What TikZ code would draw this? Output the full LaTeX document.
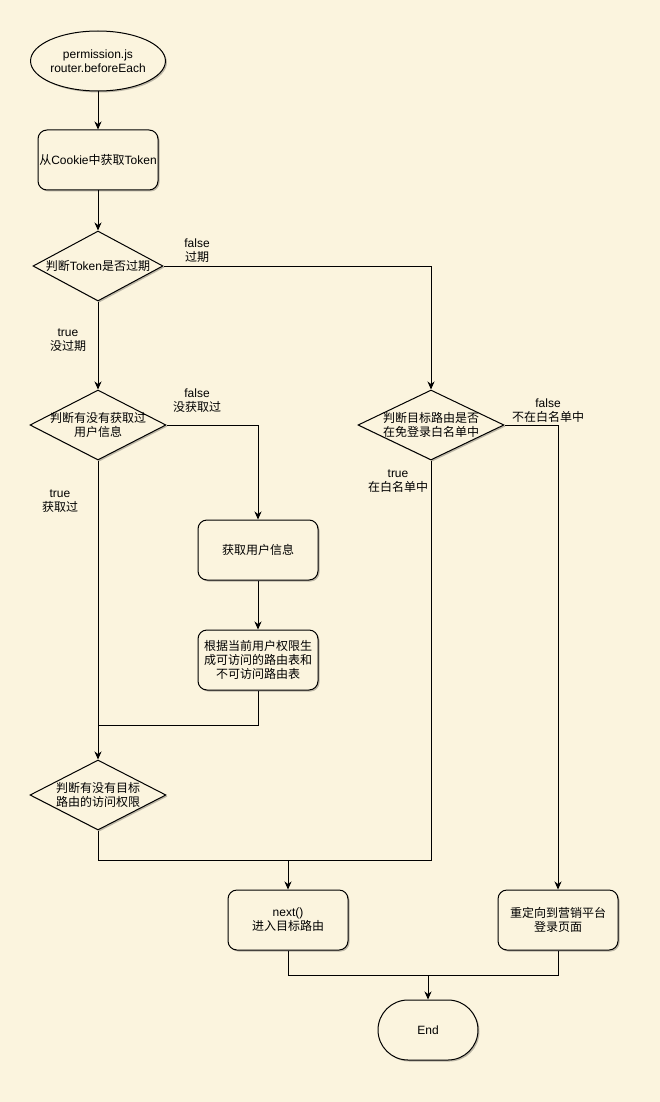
\documentclass[tikz,border=0pt]{standalone}
\usepackage{fontspec}
\setmainfont{Noto Sans CJK SC}
\newfontfamily\lat{Liberation Sans}
\usetikzlibrary{shapes.geometric,shapes.misc,arrows.meta,shadows}
\definecolor{paper}{RGB}{251,244,222}

\begin{document}
\begin{tikzpicture}[x = 1pt,
                    y = -1pt,
                    line width = 1pt,
                    font = \fontsize{12}{14}\selectfont,
                    color = {black}]
% styles of shapes and lines
\tikzset{boxshadow/.style={drop shadow={shadow xshift=1.5pt,shadow yshift=-1.5pt,opacity=.25,fill=black}},
         terminal/.style={ellipse,draw,fill=paper,minimum width=120pt,minimum height=60pt,inner sep=0pt,align=center,boxshadow},
         endstyle/.style={rounded rectangle,draw,fill=paper,minimum width=100pt,minimum height=60pt,inner sep=0pt,boxshadow},
         process/.style={rectangle,rounded corners=9pt,draw,fill=paper,minimum width=120pt,minimum height=60pt,inner sep=0pt,align=center,boxshadow},
         decision/.style={diamond,draw,fill=paper,minimum height=70pt,inner sep=-2pt,align=center,boxshadow},
         edgelabel/.style={align=center,inner sep=0pt},
         flow/.style={draw,arrows = -{Stealth[length=8pt,width=7pt,inset=2.5pt]}}}

% background
\fill[paper] (0,0) rectangle (660,1102);
\useasboundingbox (0,0) rectangle (660,1102);

% nodes
\node[terminal] (start) at (98,61) {{\lat permission.js}\\{\lat router.beforeEach}};
\node[process] (cookie) at (98,160) {从{\lat Cookie}中获取{\lat Token}};
\node[decision,minimum width=130pt,shape aspect=1.86] (token) at (98,266) {判断{\lat Token}是否过期};
\node[decision,minimum width=136pt,shape aspect=1.94] (userinfo) at (98,425) {判断有没有获取过\\用户信息};
\node[decision,minimum width=146pt,shape aspect=2.09] (white) at (431,425) {判断目标路由是否\\在免登录白名单中};
\node[process] (getuser) at (258,550) {获取用户信息};
\node[process] (routes) at (258,660) {根据当前用户权限生\\成可访问的路由表和\\不可访问路由表};
\node[decision,minimum width=136pt,shape aspect=1.94] (perm) at (98,795) {判断有没有目标\\路由的访问权限};
\node[process] (next) at (288,920) {{\lat next()}\\进入目标路由};
\node[process] (redirect) at (558,920) {重定向到营销平台\\登录页面};
\node[endstyle] (end) at (428,1030) {\lat End};

% joins
\coordinate (J1) at (98,725);
\coordinate (J2) at (288,860);
\coordinate (J3) at (428,975);

% connectors
\draw[flow] (start) -- (cookie);
\draw[flow] (cookie) -- (token);
\draw[flow] (token.east) -| (white.north);
\draw[flow] (token.south) -- (userinfo.north);
\draw[flow] (userinfo.east) -| (getuser.north);
\draw[flow] (getuser) -- (routes);
\draw (routes.south) |- (J1);
\draw[flow] (userinfo.south) -- (perm.north);
\draw (perm.south) |- (J2);
\draw (white.south) |- (J2);
\draw[flow] (J2) -- (next.north);
\draw[flow] (white.east) -| (redirect.north);
\draw (next.south) |- (J3);
\draw (redirect.south) |- (J3);
\draw[flow] (J3) -- (end.north);

% labels
\node[edgelabel] (l1) at (197,251) {{\lat false}\\过期};
\node[edgelabel] (l2) at (68,340) {{\lat true}\\没过期};
\node[edgelabel] (l3) at (197,401) {{\lat false}\\没获取过};
\node[edgelabel] (l4) at (60,501) {{\lat true}\\获取过};
\node[edgelabel] (l5) at (548,411) {{\lat false}\\不在白名单中};
\node[edgelabel] (l6) at (398,481) {{\lat true}\\在白名单中};
\end{tikzpicture}
\end{document}
